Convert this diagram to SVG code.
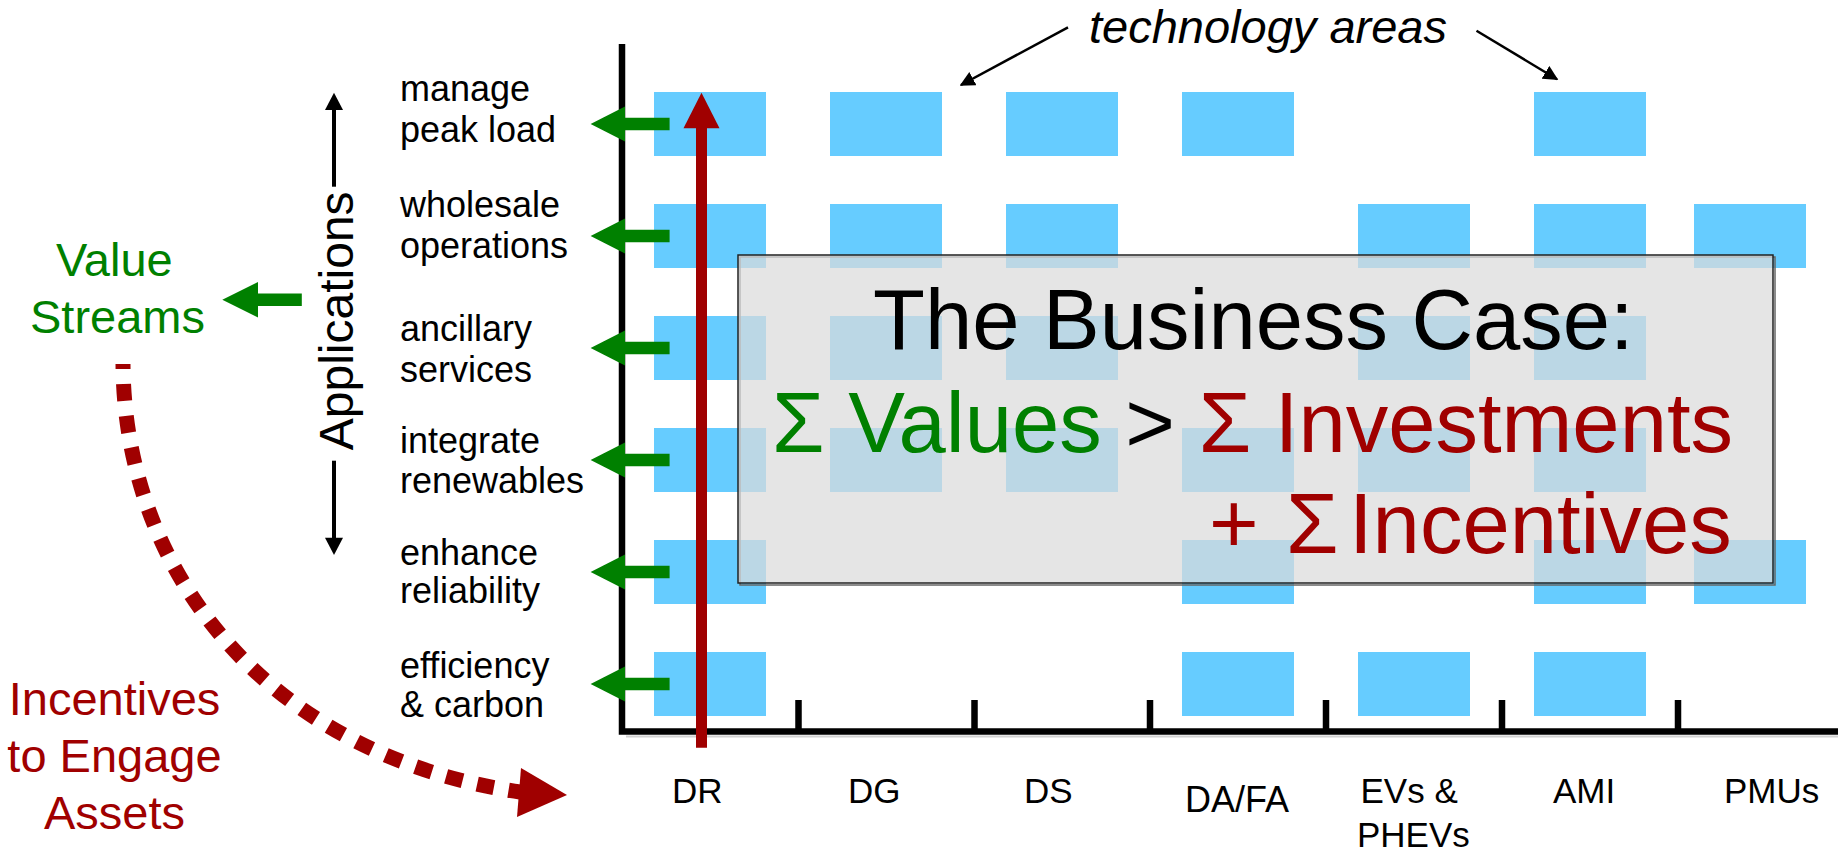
<svg xmlns="http://www.w3.org/2000/svg" width="1845" height="853" viewBox="0 0 1845 853">
<style>
text{font-family:"Liberation Sans",Arial,sans-serif}
.lbl{font-size:36px;fill:#000}
.tech{font-size:35px;fill:#000}
.box{fill:#66ccff}
.axis{stroke:#000;stroke-width:6.5;fill:none}
.grn{fill:#008000}
.red{fill:#a00000}
.big{font-size:85px}
</style>
<defs>
<marker id="ah" viewBox="0 0 10 10" refX="9" refY="5" markerWidth="6" markerHeight="6" markerUnits="strokeWidth" orient="auto">
<path d="M0,0 L10,5 L0,10 z" fill="#000"/>
</marker>
</defs>
<rect width="1845" height="853" fill="#fff"/>

<g id="technology-boxes">
<rect class="box" x="654" y="92" width="112" height="64"/>
<rect class="box" x="830" y="92" width="112" height="64"/>
<rect class="box" x="1006" y="92" width="112" height="64"/>
<rect class="box" x="1182" y="92" width="112" height="64"/>
<rect class="box" x="1534" y="92" width="112" height="64"/>

<rect class="box" x="654" y="204" width="112" height="64"/>
<rect class="box" x="830" y="204" width="112" height="64"/>
<rect class="box" x="1006" y="204" width="112" height="64"/>
<rect class="box" x="1358" y="204" width="112" height="64"/>
<rect class="box" x="1534" y="204" width="112" height="64"/>
<rect class="box" x="1694" y="204" width="112" height="64"/>

<rect class="box" x="654" y="316" width="112" height="64"/>
<rect class="box" x="830" y="316" width="112" height="64"/>
<rect class="box" x="1006" y="316" width="112" height="64"/>
<rect class="box" x="1358" y="316" width="112" height="64"/>
<rect class="box" x="1534" y="316" width="112" height="64"/>

<rect class="box" x="654" y="428" width="112" height="64"/>
<rect class="box" x="830" y="428" width="112" height="64"/>
<rect class="box" x="1006" y="428" width="112" height="64"/>
<rect class="box" x="1182" y="428" width="112" height="64"/>
<rect class="box" x="1358" y="428" width="112" height="64"/>
<rect class="box" x="1534" y="428" width="112" height="64"/>

<rect class="box" x="654" y="540" width="112" height="64"/>
<rect class="box" x="1182" y="540" width="112" height="64"/>
<rect class="box" x="1534" y="540" width="112" height="64"/>
<rect class="box" x="1694" y="540" width="112" height="64"/>

<rect class="box" x="654" y="652" width="112" height="64"/>
<rect class="box" x="1182" y="652" width="112" height="64"/>
<rect class="box" x="1358" y="652" width="112" height="64"/>
<rect class="box" x="1534" y="652" width="112" height="64"/>
</g>

<g id="axes">
<line x1="626" y1="736.5" x2="1838" y2="736.5" stroke="#d0d0d0" stroke-width="2"/>
<path class="axis" d="M622,44 L622,731.5 L1838,731.5"/>
<path class="axis" d="M798.5,700 V731 M974.5,700 V731 M1150,700 V731 M1326,700 V731 M1502,700 V731 M1678,700 V731"/>
</g>

<g id="connectors">
<!-- green value arrows -->
<polygon class="grn" points="590.6,124 625,106.5 625,117.7 669.6,117.7 669.6,130.3 625,130.3 625,141.5"/>
<polygon class="grn" points="590.6,236 625,218.5 625,229.7 669.6,229.7 669.6,242.3 625,242.3 625,253.5"/>
<polygon class="grn" points="590.6,348 625,330.5 625,341.7 669.6,341.7 669.6,354.3 625,354.3 625,365.5"/>
<polygon class="grn" points="590.6,460 625,442.5 625,453.7 669.6,453.7 669.6,466.3 625,466.3 625,477.5"/>
<polygon class="grn" points="590.6,572 625,554.5 625,565.7 669.6,565.7 669.6,578.3 625,578.3 625,589.5"/>
<polygon class="grn" points="590.6,684 625,666.5 625,677.7 669.6,677.7 669.6,690.3 625,690.3 625,701.5"/>
<!-- value streams arrow -->
<polygon class="grn" points="222.3,299.7 258,282 258,293.5 301.8,293.5 301.8,305.9 258,305.9 258,317.4"/>
<!-- red DR arrow -->
<line x1="701.5" y1="747.7" x2="701.5" y2="126" stroke="#a00000" stroke-width="11"/>
<polygon class="red" points="701.5,92.7 683.5,128.3 719.5,128.3"/>
<!-- dotted incentives curve -->
<path d="M123,364 C124,570 265,755 520,792" fill="none" stroke="#a00000" stroke-width="15" stroke-dasharray="17 15" stroke-dashoffset="12"/>
<polygon class="red" points="567,795 521,768 517,817"/>
<!-- applications double arrow -->
<line x1="334" y1="108" x2="334" y2="186.7" stroke="#000" stroke-width="4"/>
<polygon points="334,92.7 325,110 343,110" fill="#000"/>
<line x1="334" y1="460.7" x2="334" y2="540" stroke="#000" stroke-width="4"/>
<polygon points="334,555 325,537.7 343,537.7" fill="#000"/>
<!-- technology areas arrows -->
<line x1="1068" y1="27.3" x2="961" y2="85" stroke="#000" stroke-width="2.5" marker-end="url(#ah)"/>
<line x1="1476.5" y1="30.7" x2="1557" y2="79.3" stroke="#000" stroke-width="2.5" marker-end="url(#ah)"/>
</g>

<g id="application-labels" class="lbl">
<text class="lbl" x="400" y="100.7">manage</text>
<text class="lbl" x="400" y="141.7">peak load</text>
<text class="lbl" x="400" y="216.7">wholesale</text>
<text class="lbl" x="400" y="257.7">operations</text>
<text class="lbl" x="400" y="340.7">ancillary</text>
<text class="lbl" x="400" y="381.7">services</text>
<text class="lbl" x="400" y="452.7">integrate</text>
<text class="lbl" x="400" y="493.3">renewables</text>
<text class="lbl" x="400" y="565">enhance</text>
<text class="lbl" x="400" y="603.3">reliability</text>
<text class="lbl" x="400" y="678.3">efficiency</text>
<text class="lbl" x="400" y="716.7">&amp; carbon</text>
</g>

<g id="applications-title">
<text transform="translate(352.7,320.8) rotate(-90)" text-anchor="middle" font-size="48">Applications</text>
</g>

<g id="tech-labels">
<text class="tech" x="672" y="803.3">DR</text>
<text class="tech" x="848" y="803.3">DG</text>
<text class="tech" x="1024" y="803.3">DS</text>
<text class="tech" x="1185" y="811.7" style="font-size:36px">DA/FA</text>
<text class="tech" x="1360.5" y="803.3">EVs &amp;</text>
<text class="tech" x="1357" y="846.7">PHEVs</text>
<text class="tech" x="1553" y="803.3">AMI</text>
<text class="tech" x="1724" y="803.3">PMUs</text>
</g>

<g id="technology-areas">
<text x="1089" y="43.3" font-size="47" font-style="italic">technology areas</text>
</g>

<g id="value-streams">
<text x="56" y="275.7" font-size="47" fill="#008000">Value</text>
<text x="30" y="333.3" font-size="47" fill="#008000">Streams</text>
</g>

<g id="incentives">
<text x="114.5" y="715" font-size="47" fill="#a00000" text-anchor="middle">Incentives</text>
<text x="114.5" y="771.7" font-size="47" fill="#a00000" text-anchor="middle">to Engage</text>
<text x="114.5" y="829.3" font-size="47" fill="#a00000" text-anchor="middle">Assets</text>
</g>

<g id="business-case">
<rect x="740" y="257" width="1035" height="328" fill="none" stroke="#666" stroke-width="1.5"/>
<rect x="738" y="255" width="1035" height="328" fill="#dcdcdc" fill-opacity="0.73" stroke="#222" stroke-width="1.5"/>
<text class="big" x="873" y="349">The Business Case:</text>
<text class="big" x="772" y="451.7"><tspan fill="#008000">Σ Values</tspan><tspan fill="#000"> &gt; </tspan><tspan fill="#a00000">Σ Investments</tspan></text>
<text class="big" y="553.3" fill="#a00000"><tspan x="1209">+</tspan><tspan x="1286">Σ</tspan><tspan x="1349">Incentives</tspan></text>
</g>
</svg>
